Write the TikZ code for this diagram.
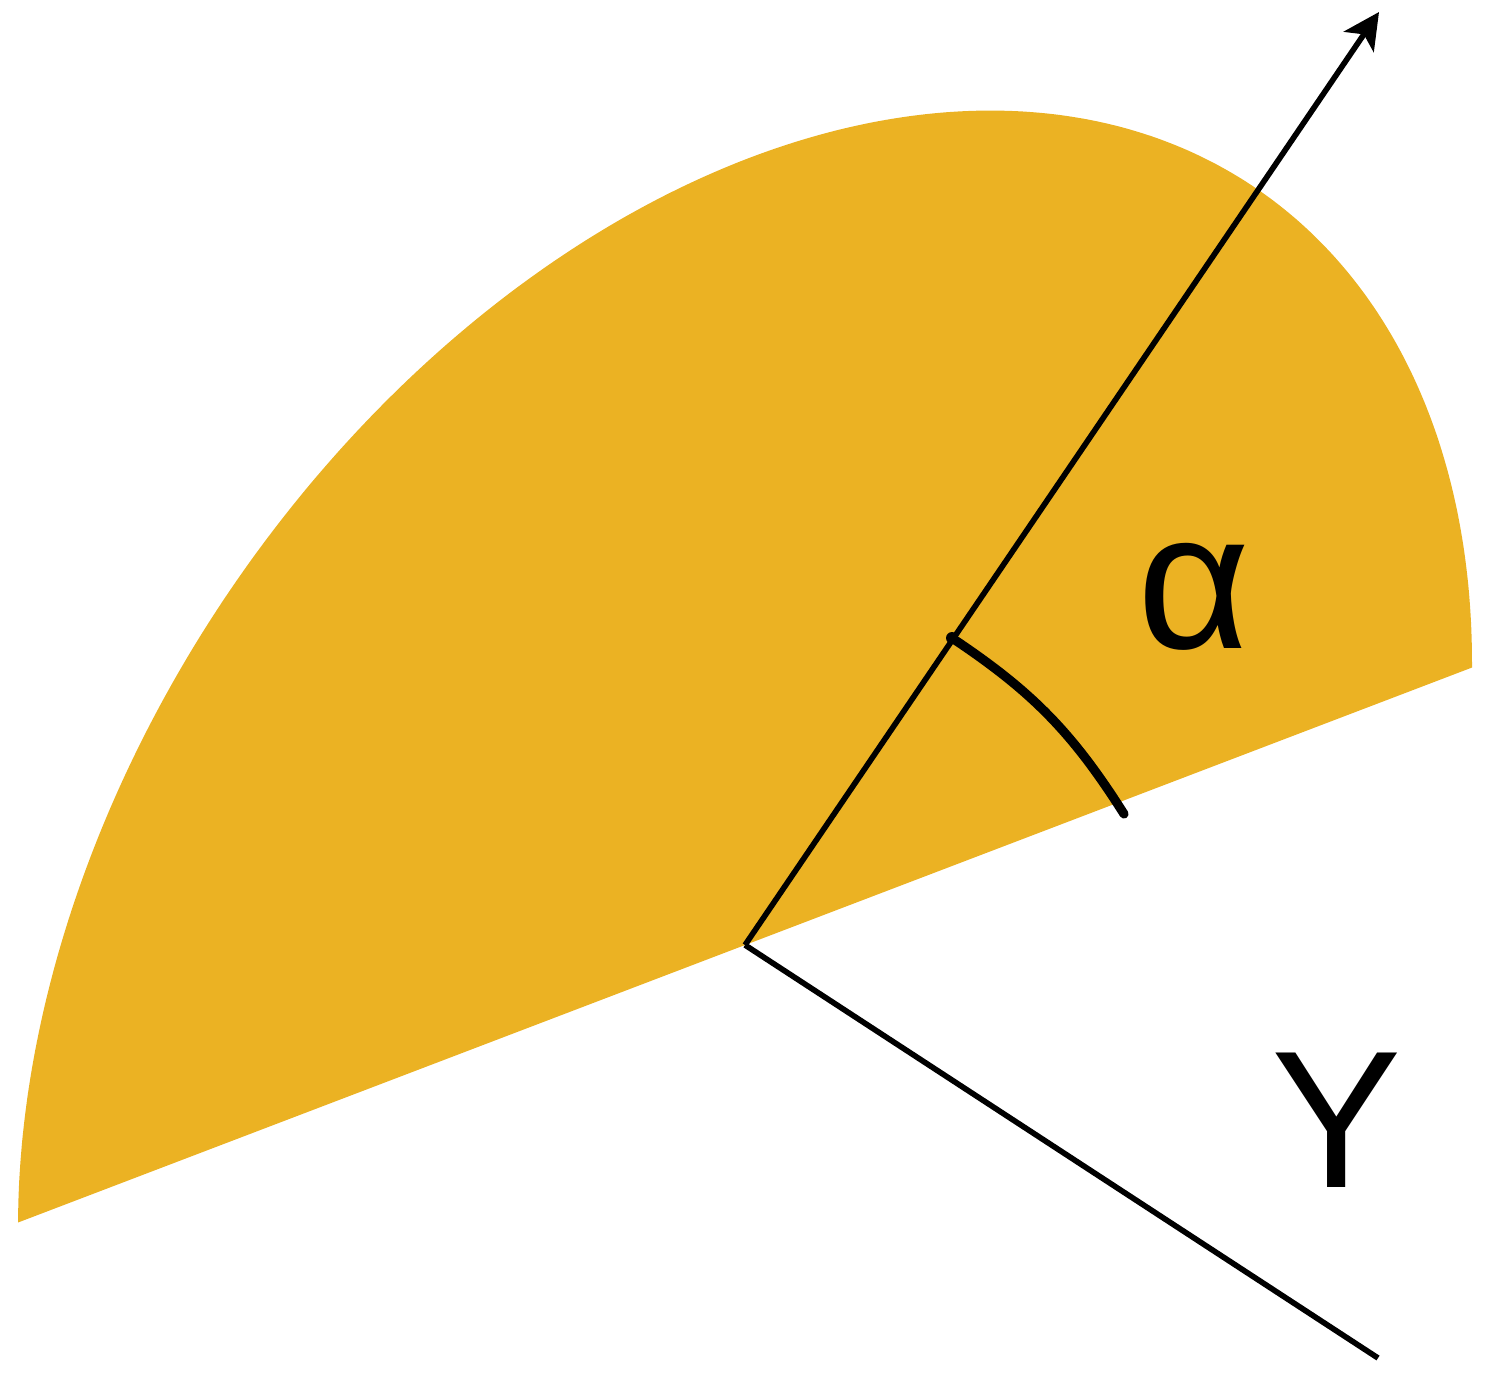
\documentclass[tikz,border=0pt]{standalone}
\usepackage{fontspec}
\setmainfont{Liberation Sans}
\usetikzlibrary{arrows.meta}
\definecolor{gold}{RGB}{235,178,35}
\tikzset{
  axisline/.style={line width=1.6pt, black},
  anglearc/.style={line width=2.6pt, black, line cap=round},
  biglabel/.style={inner sep=0pt, font=\fontsize{55.6}{60}\selectfont}
}
\begin{document}
\begin{tikzpicture}[x=0.01cm, y=-0.01cm]
\useasboundingbox (0,0) rectangle (1495,1384);
% half ellipse
\fill[gold] plot[domain=0:180, samples=120, smooth]
  ({745+727*cos(\x)+4*sin(\x)}, {945-277.5*cos(\x)-787*sin(\x)}) -- cycle;
\coordinate (O) at (745,945);
\coordinate (tip) at (1379,12);
\coordinate (yend) at (1378,1358);
\coordinate (arcA) at (952,638);
\coordinate (arcB) at (1124,814);
\draw[axisline, -{Stealth[length=0.36cm, width=0.36cm, inset=0.09cm]}] (O) -- (tip);
\draw[axisline] (O) -- (yend);
\draw[anglearc] (arcA) to[bend left=12] (arcB);
\fill (arcA) circle (6);
\node[biglabel] (alpha) at (1194,597) {α};
\node[biglabel] (Y) at (1337,1120) {Y};
\end{tikzpicture}
\end{document}
